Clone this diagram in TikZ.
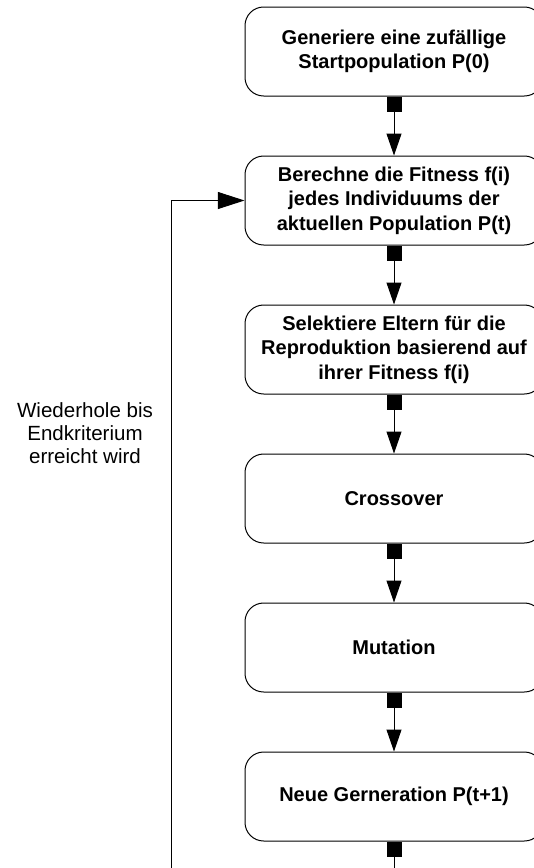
\documentclass[tikz,border=0pt]{standalone}
\usepackage{fontspec}
\setmainfont{Liberation Sans}
\usetikzlibrary{arrows.meta}
\begin{document}
\begin{tikzpicture}[x=0.75pt,y=-0.75pt,
  stage/.style={draw=black, line width=0.75pt, rounded corners=14pt,
    minimum width=223.5pt, minimum height=66.75pt, align=center,
    inner sep=0pt, font=\fontsize{15}{18.4}\selectfont\bfseries},
  flow/.style={line width=0.75pt,
    {Square[length=11.25pt,width=11.25pt]}-{Triangle[length=16.5pt,width=11.25pt]}},
  backloop/.style={line width=0.75pt, draw=black,
    {Square[length=11.25pt,width=11.25pt]}-{Triangle[length=20pt,width=12.75pt]}},
  note/.style={align=center, inner sep=0pt, font=\fontsize{15.4}{17.5}\selectfont}
]
\useasboundingbox (0,0) rectangle (534,868);
\clip (0,0) rectangle (534,868);

% process steps
\node[stage] (b1) at (394,51.5)  {Generiere eine zufällige\\Startpopulation P(0)};
\node[stage] (b2) at (394,200.5) {Berechne die Fitness f(i)\\jedes Individuums der\\aktuellen Population P(t)};
\node[stage] (b3) at (394,349.5) {Selektiere Eltern für die\\Reproduktion basierend auf\\ihrer Fitness f(i)};
\node[stage] (b4) at (394,498.5) {Crossover};
\node[stage] (b5) at (394,647.5) {Mutation};
\node[stage] (b6) at (394,796.5) {Neue Gerneration P(t+1)};

% sequence connectors
\draw[flow] (b1.south) -- (b2.north);
\draw[flow] (b2.south) -- (b3.north);
\draw[flow] (b3.south) -- (b4.north);
\draw[flow] (b4.south) -- (b5.north);
\draw[flow] (b5.south) -- (b6.north);

% loop back to the fitness evaluation
\coordinate (turn) at (171,890);
\draw[backloop] (b6.south) |- (turn) |- (b2.west);

\node[note] (repeat) at (85,433) {Wiederhole bis\\Endkriterium\\erreicht wird};
\end{tikzpicture}
\end{document}
